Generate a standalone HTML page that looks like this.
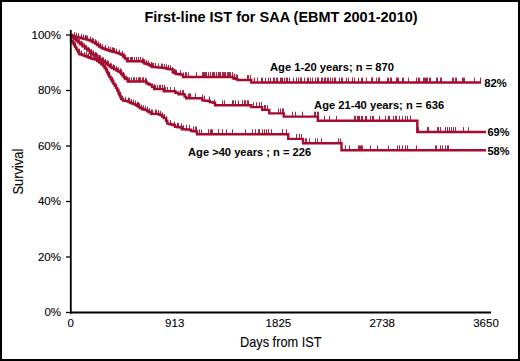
<!DOCTYPE html>
<html><head><meta charset="utf-8"><style>
html,body{margin:0;padding:0;background:#fff;}
body{width:520px;height:361px;overflow:hidden;position:relative;}
.frame{position:absolute;left:0;top:0;width:516px;height:357px;border:2px solid #000;background:#fff;}
svg{position:absolute;left:0;top:0;}
text{font-family:"Liberation Sans",sans-serif;fill:#000;stroke:#000;stroke-width:0.15px;}
.tk{font-size:11.5px;stroke-width:0.1px;}
.b{font-weight:bold;font-size:11px;stroke-width:0;}
.ttl{font-weight:bold;font-size:14px;stroke-width:0;}
.ax{font-size:14.5px;stroke-width:0.1px;}
</style></head><body><div class="frame"></div>
<svg width="520" height="361" viewBox="0 0 520 361">
<path d="M74.5 36.41v-4.2M76.5 36.93v-4.2M78.5 37.48v-4.2M78.5 37.61v-4.2M81.5 38.23v-4.2M83.5 38.74v-4.2M85.5 39.13v-4.2M86.5 39.51v-4.2M87.5 39.93v-4.2M90.5 40.78v-4.2M92.5 41.89v-4.2M93.5 42.58v-4.2M95.5 43.42v-4.2M96.5 44.58v-4.2M98.5 45.78v-4.2M100.5 47.28v-4.2M102.5 48.34v-4.2M105.5 49.19v-4.2M108.5 50.27v-4.2M108.5 50.42v-4.2M110.5 51.1v-4.2M112.5 51.45v-4.2M113.5 51.8v-4.2M114.5 52.17v-4.2M116.5 52.79v-4.2M119.5 53.79v-4.2M122.5 54.91v-4.2M124.5 57.55v-4.2M125.5 59.25v-4.2M128.5 61.2v-4.2M130.5 61.2v-4.2M131.5 61.2v-4.2M132.5 61.2v-4.2M134.5 61.2v-4.2M136.5 61.2v-4.2M138.5 61.2v-4.2M140.5 61.2v-4.2M142.5 62.11v-4.2M143.5 62.66v-4.2M144.5 63.44v-4.2M146.5 64.03v-4.2M148.5 64.75v-4.2M151.5 66.07v-4.2M152.5 67v-4.2M153.5 67.05v-4.2M155.5 67.21v-4.2M155.5 67.27v-4.2M158.5 67.47v-4.2M161.5 67.74v-4.2M162.5 67.85v-4.2M164.5 68.07v-4.2M166.5 68.5v-4.2M168.5 69.05v-4.2M170.5 69.35v-4.2M172.5 71.23v-4.2M174.5 72.93v-4.2M175.5 73.64v-4.2M176.5 74.03v-4.2M247.5 80v-4.9M248.5 80v-4.9M254.5 82.5v-4.9M257.5 82.5v-4.9M261.5 82.5v-4.9M262.5 82.5v-4.9M265.5 82.5v-4.9M268.5 82.5v-4.9M270.5 82.5v-4.9M273.5 82.5v-4.9M274.5 82.5v-4.9M276.5 82.5v-4.9M277.5 82.5v-4.9M280.5 82.5v-4.9M281.5 82.5v-4.9M282.5 82.5v-4.9M284.5 82.5v-4.9M286.5 82.5v-4.9M287.5 82.5v-4.9M289.5 82.5v-4.9M293.5 82.5v-4.9M296.5 82.5v-4.9M298.5 82.5v-4.9M300.5 82.5v-4.9M301.5 82.5v-4.9M304.5 82.5v-4.9M307.5 82.5v-4.9M308.5 82.5v-4.9M310.5 82.5v-4.9M312.5 82.5v-4.9M315.5 82.5v-4.9M317.5 82.5v-4.9M318.5 82.5v-4.9M321.5 82.5v-4.9M322.5 82.5v-4.9M324.5 82.5v-4.9M325.5 82.5v-4.9M327.5 82.5v-4.9M328.5 82.5v-4.9M330.5 82.5v-4.9M332.5 82.5v-4.9M334.5 82.5v-4.9M335.5 82.5v-4.9M339.5 82.5v-4.9M341.5 82.5v-4.9M342.5 82.5v-4.9M346.5 82.5v-4.9M348.5 82.5v-4.9M352.5 82.5v-4.9M352.5 82.5v-4.9M354.5 82.5v-4.9M358.5 82.5v-4.9M361.5 82.5v-4.9M362.5 82.5v-4.9M366.5 82.5v-4.9M371.5 82.5v-4.9M372.5 82.5v-4.9M372.5 82.5v-4.9M376.5 82.5v-4.9M378.5 82.5v-4.9M379.5 82.5v-4.9M379.5 82.5v-4.9M387.5 82.5v-4.9M388.5 82.5v-4.9M390.5 82.5v-4.9M391.5 82.5v-4.9M396.5 82.5v-4.9M397.5 82.5v-4.9M398.5 82.5v-4.9M402.5 82.5v-4.9M403.5 82.5v-4.9M408.5 82.5v-4.9M416.5 82.5v-4.9M418.5 82.5v-4.9M419.5 82.5v-4.9M423.5 82.5v-4.9M424.5 82.5v-4.9M425.5 82.5v-4.9M426.5 82.5v-4.9M427.5 82.5v-4.9M429.5 82.5v-4.9M430.5 82.5v-4.9M436.5 82.5v-4.9M437.5 82.5v-4.9M440.5 82.5v-4.9M441.5 82.5v-4.9M452.5 82.5v-4.9M453.5 82.5v-4.9M455.5 82.5v-4.9M456.5 82.5v-4.9M462.5 82.5v-4.9M463.5 82.5v-4.9M464.5 82.5v-4.9M474.5 82.5v-4.9M480.5 82.5v-4.9M180.5 74.44v-4.2M183.5 76.56v-4.2M185.5 77v-4.9M186.5 77v-4.9M188.5 77v-4.9M196.5 77v-4.9M202.5 77v-4.9M203.5 77v-4.9M204.5 77v-4.9M205.5 77v-4.9M206.5 77v-4.9M208.5 77v-4.9M210.5 77v-4.9M212.5 77v-4.9M213.5 77v-4.9M214.5 77v-4.9M216.5 77v-4.9M218.5 77v-4.9M219.5 77v-4.9M220.5 77v-4.9M222.5 77v-4.9M223.5 77v-4.9M224.5 77v-4.9M225.5 77v-4.9M227.5 77v-4.9M228.5 77v-4.9M229.5 77v-4.9M230.5 77v-4.9M232.5 77v-4.9M234.5 78.49v-4.9M236.5 79.09v-4.9M237.5 79.65v-4.9M250.5 80v-4.9" fill="none" stroke="#a2243f" stroke-width="1"/>
<path d="M71 35.5 H72.5 V36 H74 V36.5 H76 V37 H78 V37.5 H80.25 V38.05 H82.5 V38.6 H84.55 V39.1 H86.6 V39.6 H88.7 V40.4 H90.8 V41.2 H92.9 V42.4 H95 V43.6 H97 V45.1 H99 V46.6 H100.5 V47.4 H102 V48.2 H103.75 V48.85 H105.5 V49.5 H107.25 V50.15 H109 V50.8 H110.75 V51.25 H112.5 V51.7 H114.25 V52.15 H116 V52.6 H117.83 V53.33 H119.67 V54.07 H121.5 V54.8 H123.15 V56.65 H124.8 V58.5 H127 V61.2 H141 H142.75 V62.35 H144.5 V63.5 H146.75 V64.25 H149 V65 H150.5 V66 H152 V67 H154.13 V67.17 H156.27 V67.33 H158.4 V67.5 H160.27 V67.67 H162.13 V67.83 H164 V68 H166 V68.47 H168 V68.93 H170 V69.4 H172.7 V72.3 H174.35 V73.15 H176 V74 H178.4 V74.3 H180.8 V74.6 H183 V77 H232 H233 V78.3 H234.75 V78.85 H236.5 V79.4 H237.7 V80 H251.3 V82.5 H481" fill="none" stroke="#a50a31" stroke-width="2.4" stroke-linejoin="miter"/>
<path d="M74.5 38.64v-4.2M76.5 40.59v-4.2M77.5 41.64v-4.2M79.5 43.34v-4.2M81.5 44.78v-4.2M82.5 46.01v-4.2M84.5 47.5v-4.2M86.5 49.25v-4.2M88.5 51.02v-4.2M89.5 52.12v-4.2M91.5 53.3v-4.2M93.5 54.61v-4.2M95.5 56.05v-4.2M96.5 56.62v-4.2M97.5 57.83v-4.2M99.5 59.02v-4.2M100.5 59.51v-4.2M102.5 61.09v-4.2M103.5 61.66v-4.2M105.5 63.12v-4.2M107.5 64.38v-4.2M108.5 64.95v-4.2M110.5 66.87v-4.2M111.5 67.66v-4.2M113.5 68.54v-4.2M114.5 69.35v-4.2M116.5 70.2v-4.2M118.5 71.35v-4.2M120.5 72.49v-4.2M121.5 73.53v-4.2M123.5 76.19v-4.2M124.5 77.57v-4.2M126.5 79.66v-4.2M127.5 81.13v-4.2M129.5 81.5v-4.2M131.5 81.5v-4.2M133.5 81.5v-4.2M134.5 81.5v-4.2M136.5 81.5v-4.2M138.5 81.5v-4.2M139.5 81.5v-4.2M140.5 81.5v-4.2M142.5 81.5v-4.2M143.5 81.5v-4.2M145.5 81.8v-4.2M146.5 82.68v-4.2M154.5 88.36v-4.2M155.5 89v-4.2M157.5 89v-4.2M159.5 89v-4.2M160.5 89v-4.2M162.5 89v-4.2M164.5 89v-4.2M165.5 91.2v-4.2M167.5 91.2v-4.2M170.5 91.2v-4.2M174.5 91.2v-4.2M174.5 91.2v-4.2M180.5 94.3v-4.2M182.5 94.3v-4.2M183.5 94.3v-4.2M188.5 98.3v-4.9M189.5 98.3v-4.9M190.5 98.3v-4.9M195.5 98.3v-4.9M202.5 99.35v-4.9M204.5 100.53v-4.9M209.5 101.37v-4.9M214.5 104.32v-4.9M222.5 105.2v-4.9M224.5 105.2v-4.9M232.5 105.2v-4.9M233.5 105.2v-4.9M235.5 105.2v-4.9M238.5 105.2v-4.9M242.5 105.2v-4.9M242.5 105.2v-4.9M244.5 105.2v-4.9M245.5 105.2v-4.9M247.5 105.2v-4.9M248.5 105.2v-4.9M253.5 107.1v-4.9M256.5 107.1v-4.9M259.5 107.1v-4.9M261.5 107.1v-4.9M264.5 109.9v-4.9M265.5 109.9v-4.9M267.5 109.9v-4.9M278.5 113.4v-4.9M280.5 113.4v-4.9M282.5 113.4v-4.9M283.5 113.4v-4.9M292.5 116.6v-4.9M295.5 116.6v-4.9M302.5 116.6v-4.9M314.5 116.6v-4.9M315.5 116.6v-4.9M317.5 116.6v-4.9M318.5 116.6v-4.9M324.5 120.8v-4.9M329.5 120.8v-4.9M336.5 120.8v-4.9M354.5 120.8v-4.9M355.5 120.8v-4.9M357.5 120.8v-4.9M358.5 120.8v-4.9M359.5 120.8v-4.9M361.5 120.8v-4.9M362.5 120.8v-4.9M365.5 120.8v-4.9M366.5 120.8v-4.9M370.5 120.8v-4.9M372.5 120.8v-4.9M373.5 120.8v-4.9M379.5 120.8v-4.9M385.5 120.8v-4.9M388.5 120.8v-4.9M389.5 120.8v-4.9M393.5 120.8v-4.9M395.5 120.8v-4.9M396.5 120.8v-4.9M399.5 120.8v-4.9M402.5 120.8v-4.9M405.5 120.8v-4.9M407.5 120.8v-4.9M410.5 120.8v-4.9M418.5 132v-4.9M427.5 132v-4.9M428.5 132v-4.9M437.5 132v-4.9M438.5 132v-4.9M440.5 132v-4.9M445.5 132v-4.9M447.5 132v-4.9M449.5 132v-4.9M451.5 132v-4.9M453.5 132v-4.9M455.5 132v-4.9M463.5 132v-4.9M468.5 132v-4.9" fill="none" stroke="#a2243f" stroke-width="1"/>
<path d="M71 35 H72 V37.5 H74 V39 H76 V40.5 H78 V42.4 H80 V44.3 H82.5 V46.4 H85 V48.5 H87.5 V50.65 H90 V52.8 H92.5 V54.55 H95 V56.3 H97.5 V57.9 H100 V59.5 H102 V60.93 H104 V62.37 H106 V63.8 H107.87 V65.2 H109.73 V66.6 H111.6 V68 H114.05 V69.25 H116.5 V70.5 H118.25 V71.5 H120 V72.5 H121.25 V74 H122.5 V75.5 H123.75 V77.25 H125 V79 H127.7 V81.5 H144.2 H146.5 V83.2 H148.05 V84 H149.6 V84.8 H152 V87 H154.2 V89 H163.8 V91.2 H175.4 V92.8 H178.5 V94.3 H183 H184.6 V96.6 H186.2 V98.3 H201.1 H202.3 V100.4 H204.2 V100.6 H206.1 V100.8 H208 V101 H209.8 V102.1 H211.55 V102.4 H213.3 V102.7 H215 V105.2 H251.3 V107.1 H262.2 V109.9 H269.3 V113.4 H283.8 V116.6 H317.8 V120.8 H417.3 V132 H486" fill="none" stroke="#a50a31" stroke-width="2.4" stroke-linejoin="miter"/>
<path d="M74.5 45.74v-4.2M75.5 46.59v-4.2M79.5 52.89v-4.2M81.5 54.78v-4.2M84.5 55.96v-4.2M86.5 56.46v-4.2M88.5 57.41v-4.2M90.5 58v-4.2M91.5 58.47v-4.2M93.5 58.92v-4.2M95.5 59.44v-4.2M96.5 60.27v-4.2M98.5 61.91v-4.2M101.5 64.07v-4.2M102.5 65.16v-4.2M105.5 68.39v-4.2M107.5 72.42v-4.2M109.5 76.05v-4.2M112.5 81.13v-4.2M113.5 83.37v-4.2M116.5 87.98v-4.2M118.5 92.68v-4.2M120.5 96v-4.2M122.5 99.82v-4.2M125.5 100.97v-4.2M128.5 101.68v-4.2M129.5 102.18v-4.2M131.5 103.16v-4.2M133.5 103.83v-4.2M135.5 104.65v-4.2M137.5 106.12v-4.2M138.5 106.39v-4.2M139.5 107.34v-4.2M141.5 108.77v-4.2M143.5 109.46v-4.2M145.5 109.84v-4.2M147.5 110.82v-4.2M149.5 112.53v-4.2M151.5 113.54v-4.2M152.5 113.9v-4.2M155.5 113.9v-4.2M156.5 113.9v-4.2M158.5 114.21v-4.2M160.5 115.1v-4.2M162.5 116.64v-4.2M164.5 118.3v-4.2M166.5 120.54v-4.2M170.5 124.25v-4.2M174.5 125.86v-4.2M177.5 127.08v-4.2M178.5 127.22v-4.2M181.5 127.5v-4.2M183.5 129.27v-4.2M186.5 129.5v-4.9M189.5 129.76v-4.9M193.5 131.25v-4.9M195.5 131.38v-4.9M196.5 131.5v-4.9M199.5 134.2v-4.9M201.5 134.2v-4.9M208.5 134.2v-4.9M210.5 134.2v-4.9M211.5 134.2v-4.9M212.5 134.2v-4.9M218.5 134.2v-4.9M222.5 134.2v-4.9M226.5 134.2v-4.9M232.5 134.2v-4.9M245.5 134.2v-4.9M252.5 134.2v-4.9M255.5 134.2v-4.9M258.5 134.2v-4.9M259.5 134.2v-4.9M262.5 134.2v-4.9M264.5 134.2v-4.9M266.5 134.2v-4.9M268.5 134.2v-4.9M271.5 134.2v-4.9M282.5 134.2v-4.9M286.5 134.2v-4.9M296.5 138.9v-4.9M299.5 138.9v-4.9M301.5 138.9v-4.9M305.5 143.3v-4.9M306.5 143.3v-4.9M309.5 143.3v-4.9M315.5 143.3v-4.9M317.5 143.3v-4.9M321.5 143.3v-4.9M338.5 143.3v-4.9M340.5 143.3v-4.9M345.5 150.3v-4.9M349.5 150.3v-4.9M358.5 150.3v-4.9M359.5 150.3v-4.9M360.5 150.3v-4.9M361.5 150.3v-4.9M362.5 150.3v-4.9M370.5 150.3v-4.9M377.5 150.3v-4.9M388.5 150.3v-4.9M397.5 150.3v-4.9M399.5 150.3v-4.9M402.5 150.3v-4.9M405.5 150.3v-4.9M407.5 150.3v-4.9M416.5 150.3v-4.9M435.5 150.3v-4.9M436.5 150.3v-4.9M440.5 150.3v-4.9M442.5 150.3v-4.9M445.5 150.3v-4.9M447.5 150.3v-4.9M448.5 150.3v-4.9" fill="none" stroke="#a2243f" stroke-width="1"/>
<path d="M71 35 V41 H72.85 V43 H74 V45 H75 V46.75 H76 V48.5 H77.1 V50.4 H78.2 V52.3 H79.3 V54.2 H81.8 V55.1 H84.3 V56 H86.8 V56.95 H89.3 V57.9 H91.2 V58.43 H93.1 V58.97 H95 V59.5 H97.15 V61 H99.3 V62.5 H101.3 V64.25 H103.3 V66 H104.65 V68 H106 V70 H107 V72.3 H108 V74.6 H109.33 V76.9 H110.67 V79.2 H112 V81.5 H113.33 V83.67 H114.67 V85.83 H116 V88 H117.25 V90.5 H118.5 V93 H119.25 V94.5 H120 V96 H120.65 V97.5 H121.3 V99 H123 V100.6 H124.95 V100.9 H126.9 V101.2 H128.65 V102.1 H130.4 V103 H132.7 V103.85 H135 V104.7 H136.75 V105.85 H138.5 V107 H140.2 V108.15 H141.9 V109.3 H143.65 V109.6 H145.4 V109.9 H147.1 V111.05 H148.8 V112.2 H151.1 V113.9 H156.9 H158.65 V114.5 H160.4 V115.1 H162.1 V116.55 H163.8 V118 H166.1 V120.8 H167.3 V123.6 H169.1 V124.07 H170.9 V124.53 H172.7 V125 H175 V126.8 H176.93 V127.03 H178.87 V127.27 H180.8 V127.5 H182 V129.2 H184 V129.35 H186 V129.5 H188 V129.65 H190 V129.8 H191 V131 H193.4 V131.25 H195.8 V131.5 H197 V134.2 H288.2 V138.9 H303 V143.3 H341.5 V150.3 H486" fill="none" stroke="#a50a31" stroke-width="2.4" stroke-linejoin="miter"/>
<path d="M70.8 30V313.4" stroke="#000" stroke-width="1.8" fill="none"/>
<path d="M70 312.5H491" stroke="#000" stroke-width="1.8" fill="none"/>
<path d="M66 35H71" stroke="#000" stroke-width="1.3"/>
<path d="M66 90.5H71" stroke="#000" stroke-width="1.3"/>
<path d="M66 146H71" stroke="#000" stroke-width="1.3"/>
<path d="M66 201.5H71" stroke="#000" stroke-width="1.3"/>
<path d="M66 257H71" stroke="#000" stroke-width="1.3"/>
<path d="M66 312.5H71" stroke="#000" stroke-width="1.3"/>
<text x="61" y="38.9" text-anchor="end" class="tk">100%</text>
<text x="61" y="94.4" text-anchor="end" class="tk">80%</text>
<text x="61" y="149.9" text-anchor="end" class="tk">60%</text>
<text x="61" y="205.4" text-anchor="end" class="tk">40%</text>
<text x="61" y="260.9" text-anchor="end" class="tk">20%</text>
<text x="61" y="316.4" text-anchor="end" class="tk">0%</text>
<text x="70.8" y="327.4" text-anchor="middle" class="tk">0</text>
<text x="174.7" y="327.4" text-anchor="middle" class="tk">913</text>
<text x="278.4" y="327.4" text-anchor="middle" class="tk">1825</text>
<text x="382.2" y="327.4" text-anchor="middle" class="tk">2738</text>
<text x="486" y="327.4" text-anchor="middle" class="tk">3650</text>
<text x="144.4" y="22.4" class="ttl" textLength="273.2" lengthAdjust="spacingAndGlyphs">First-line IST for SAA (EBMT 2001-2010)</text>
<text x="270" y="70.8" class="b" textLength="124" lengthAdjust="spacingAndGlyphs">Age 1-20 years; n = 870</text>
<text x="314.1" y="109" class="b" textLength="130" lengthAdjust="spacingAndGlyphs">Age 21-40 years; n = 636</text>
<text x="188.1" y="155.5" class="b" textLength="123" lengthAdjust="spacingAndGlyphs">Age &gt;40 years ; n = 226</text>
<text x="484.3" y="87.2" class="b" style="font-size:11.3px">82%</text>
<text x="487.5" y="135.9" class="b">69%</text>
<text x="487.5" y="154.5" class="b">58%</text>
<text x="240" y="347.1" class="ax" textLength="81.5" lengthAdjust="spacingAndGlyphs">Days from IST</text>
<text transform="translate(22.7 194.6) rotate(-90)" class="ax" textLength="46" lengthAdjust="spacingAndGlyphs">Survival</text>
</svg>
</body></html>
